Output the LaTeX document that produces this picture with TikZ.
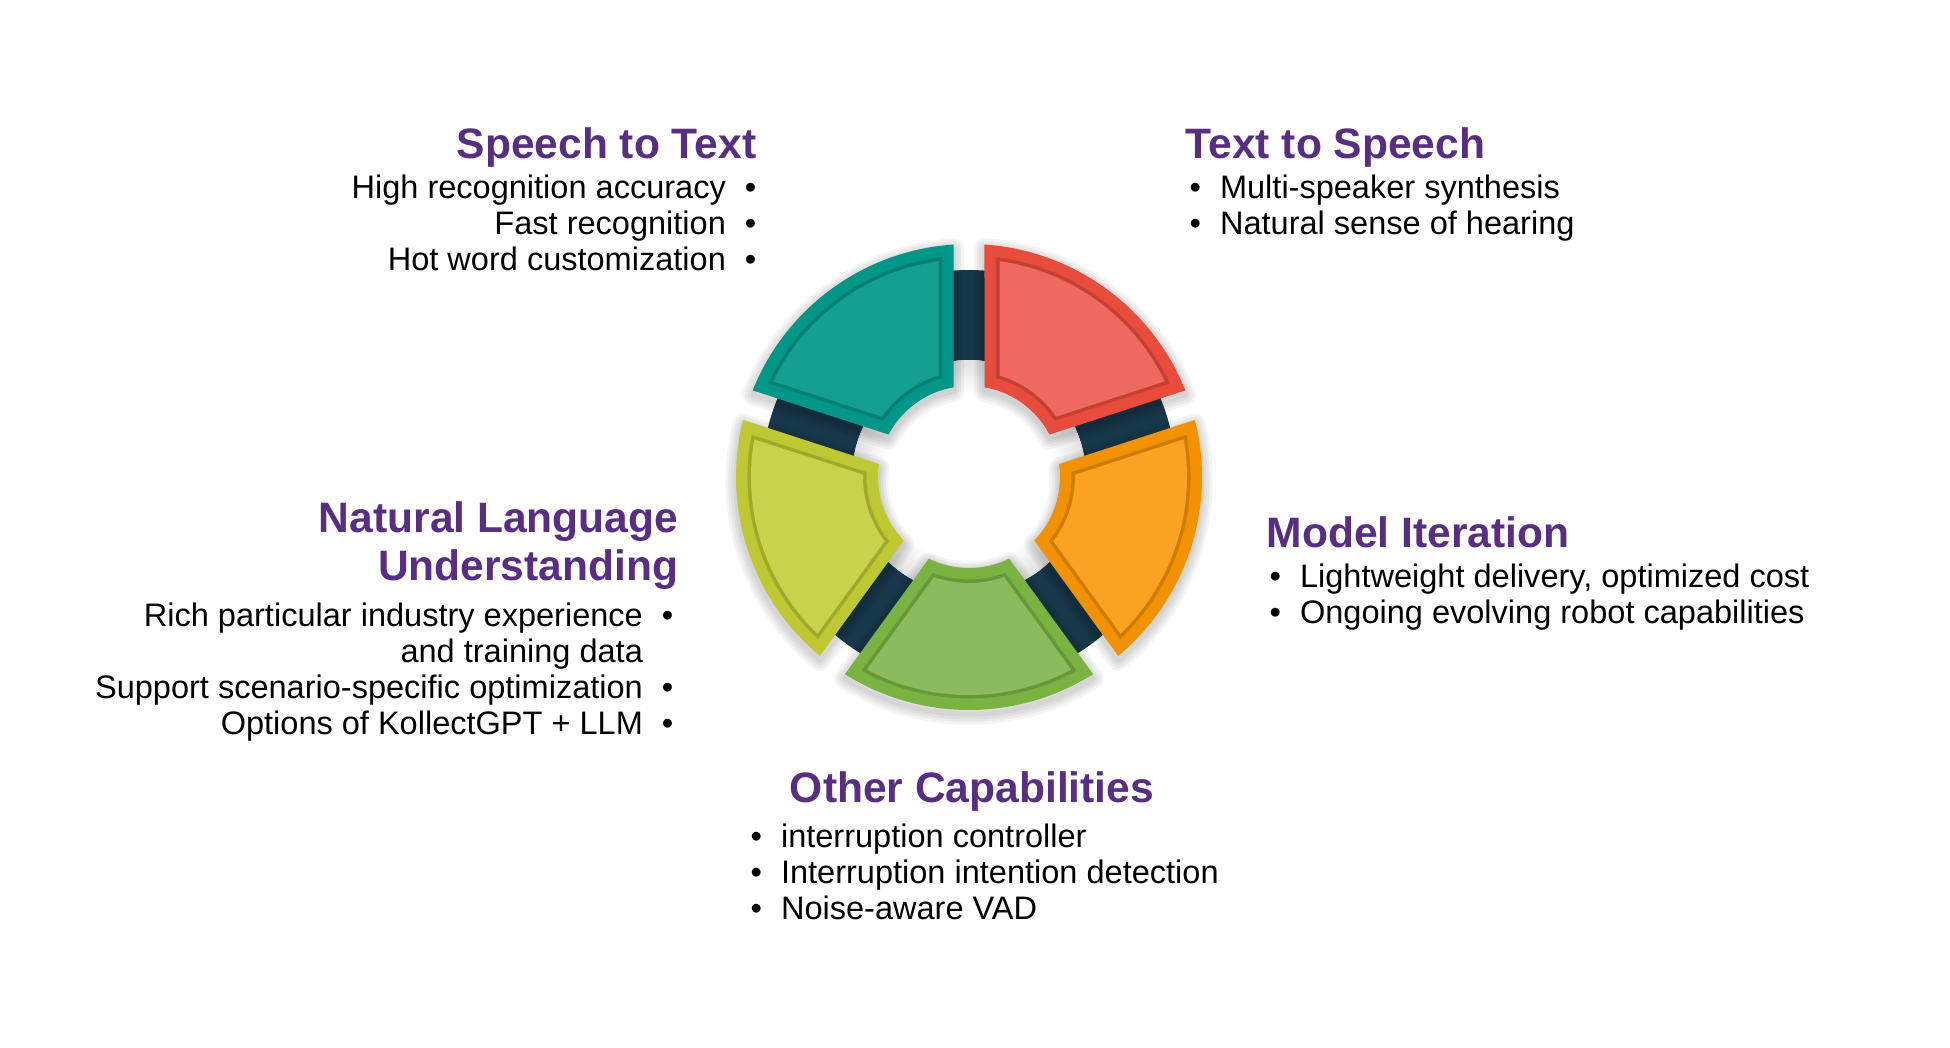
\documentclass[tikz,border=0pt]{standalone}
\usepackage{fontspec}
\setmainfont{Liberation Sans}
\usetikzlibrary{shadings}

\definecolor{headpurple}{HTML}{572E83}
\definecolor{hubdark}{HTML}{17384A}
\definecolor{ttsedge}{HTML}{E74C3C}
\definecolor{ttsfill}{HTML}{F0695E}
\definecolor{sttedge}{HTML}{009688}
\definecolor{sttfill}{HTML}{13A090}
\definecolor{nluedge}{HTML}{BDC832}
\definecolor{nlufill}{HTML}{C8D24D}
\definecolor{ocedge}{HTML}{7AB342}
\definecolor{ocfill}{HTML}{8BBB5D}
\definecolor{miedge}{HTML}{F39200}
\definecolor{mifill}{HTML}{FCA223}

\pgfdeclareradialshading{innerglow}{\pgfpoint{0bp}{0bp}}{%
  color(0bp)=(white); color(18bp)=(white); color(25bp)=(black!12); color(50bp)=(black!12)}

\tikzset{
    heading/.style={
        font=\bfseries\fontsize{12.1pt}{13.7pt}\selectfont,
        text=headpurple,
        inner sep=0pt
    },
    bulletitem/.style={
        font=\fontsize{9.25pt}{10.2pt}\selectfont,
        inner sep=0pt
    },
    hub/.style={fill=hubdark},
    pieceshadow/.style={draw=black, draw opacity=0.045, line join=round, line width=#1, yshift=-1.2pt}
}

% bullet before / after the text
\newcommand{\lbul}[1]{\textbullet\hspace{5.4pt}#1}
\newcommand{\rbul}[1]{#1\hspace{5.4pt}\textbullet}

% one piece of the wheel: style, from, to, outer radius, inner radius, half gap
\newcommand{\ringpiece}[6]{%
  \pgfmathsetmacro{\outoff}{asin(#6/#4)}%
  \pgfmathsetmacro{\inoff}{asin(#6/#5)}%
  \path[#1] ({#2+\outoff}:#4) arc[start angle=#2+\outoff, end angle=#3-\outoff, radius=#4]
    -- ({#3-\inoff}:#5) arc[start angle=#3-\inoff, end angle=#2+\inoff, radius=#5] -- cycle;
}
% piece with shadow, rim and panel
\newcommand{\capability}[4]{%
  \foreach \sw in {1.5pt,3pt,4.5pt,6pt}{\ringpiece{pieceshadow=\sw}{#1}{#2}{233}{91}{15.5}}%
  \ringpiece{fill=#3}{#1}{#2}{233}{91}{15.5}%
  \ringpiece{draw=black, draw opacity=0.15, line width=2pt}{#1}{#2}{218}{106}{30.5}%
  \ringpiece{fill=#4}{#1}{#2}{218}{106}{30.5}%
}

\begin{document}
\begin{tikzpicture}[x=0.01cm, y=-0.01cm]
\useasboundingbox (0,0) rectangle (1950,1047);

% wheel
\begin{scope}[shift={(969,477)}, y=0.01cm]
  \fill[hub, even odd rule] (0,0) circle[radius=207] (0,0) circle[radius=117];
  \shade[shading=innerglow] (0,0) circle[radius=117];
  \capability{18}{90}{ttsedge}{ttsfill}
  \capability{90}{162}{sttedge}{sttfill}
  \capability{162}{234}{nluedge}{nlufill}
  \capability{234}{306}{ocedge}{ocfill}
  \capability{306}{378}{miedge}{mifill}
\end{scope}

% speech to text
\node[heading, anchor=base east] (stt) at (757,158) {Speech to Text};
\node[bulletitem, anchor=base east] (stt1) at (757,198) {\rbul{High recognition accuracy}};
\node[bulletitem, anchor=base east] (stt2) at (757,234) {\rbul{Fast recognition}};
\node[bulletitem, anchor=base east] (stt3) at (757,270) {\rbul{Hot word customization}};

% text to speech
\node[heading, anchor=base west] (tts) at (1185,158) {Text to Speech};
\node[bulletitem, anchor=base west] (tts1) at (1189,198) {\lbul{Multi-speaker synthesis}};
\node[bulletitem, anchor=base west] (tts2) at (1189,234) {\lbul{Natural sense of hearing}};

% model iteration
\node[heading, anchor=base west] (mi) at (1266,547) {Model Iteration};
\node[bulletitem, anchor=base west] (mi1) at (1269,587) {\lbul{Lightweight delivery, optimized cost}};
\node[bulletitem, anchor=base west] (mi2) at (1269,623) {\lbul{Ongoing evolving robot capabilities}};

% other capabilities
\node[heading, anchor=base] (oc) at (972,802) {Other Capabilities};
\node[bulletitem, anchor=base west] (oc1) at (750,847) {\lbul{interruption controller}};
\node[bulletitem, anchor=base west] (oc2) at (750,883) {\lbul{Interruption intention detection}};
\node[bulletitem, anchor=base west] (oc3) at (750,919) {\lbul{Noise-aware VAD}};

% natural language understanding
\node[heading, anchor=base east] (nlu) at (679,532) {Natural Language};
\node[heading, anchor=base east] (nlub) at (679,580) {Understanding};
\node[bulletitem, anchor=base east] (nlu1) at (674,626) {\rbul{Rich particular industry experience}};
\node[bulletitem, anchor=base east] (nlu1b) at (674,662) {and training data\hspace{5.4pt}\phantom{\textbullet}};
\node[bulletitem, anchor=base east] (nlu2) at (674,698) {\rbul{Support scenario-specific optimization}};
\node[bulletitem, anchor=base east] (nlu3) at (674,734) {\rbul{Options of KollectGPT + LLM}};
\end{tikzpicture}
\end{document}
